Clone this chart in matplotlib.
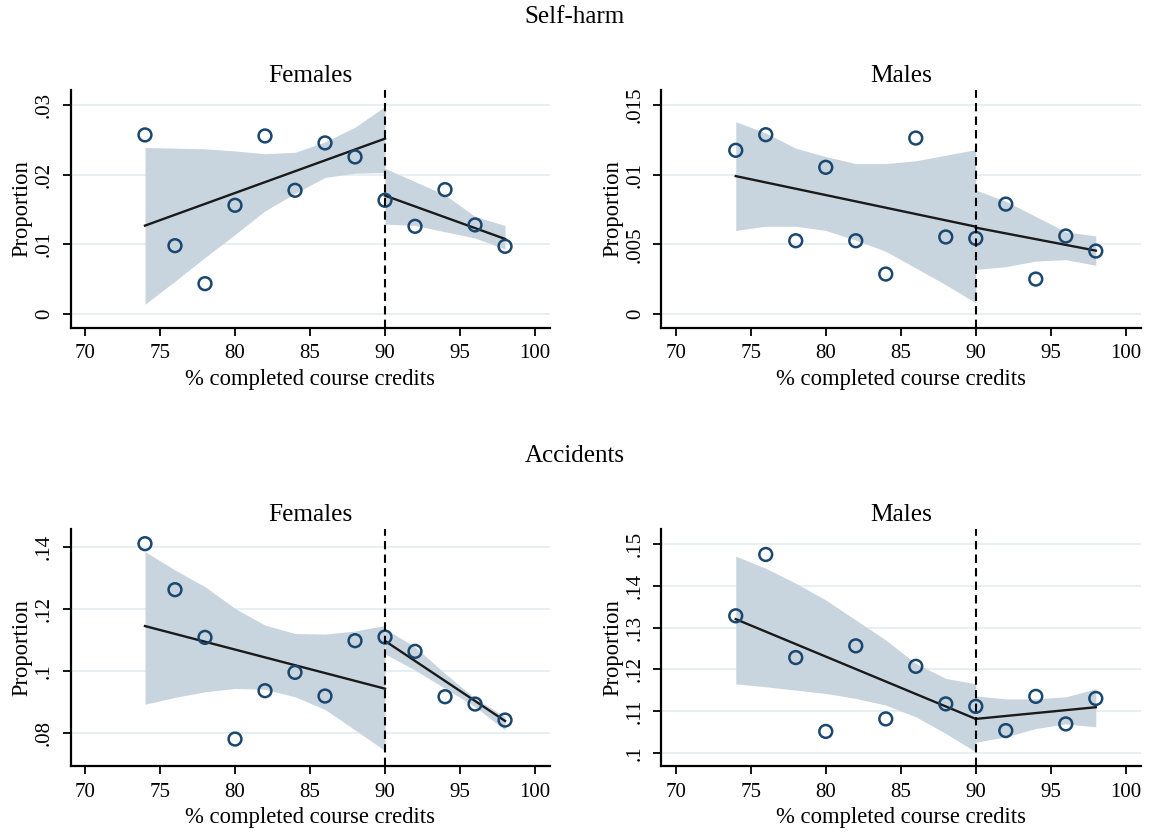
import numpy as np
import matplotlib
matplotlib.use('Agg')
import matplotlib.pyplot as plt

plt.rcParams['font.family'] = ['Liberation Serif', 'DejaVu Serif']

x = [74, 76, 78, 80, 82, 84, 86, 88, 90, 92, 94, 96, 98]
x_left = [74, 76, 78, 80, 82, 84, 86, 88, 90]
x_right = [90, 92, 94, 96, 98]
fit_x_left = [74, 90]
fit_x_right = [90, 98]

# self-harm, females
sh_f = [0.0257, 0.0098, 0.00435, 0.0156, 0.02555, 0.01775, 0.02455, 0.02254,
        0.01632, 0.01258, 0.01785, 0.01278, 0.00971]
sh_f_fit_left = [0.01268, 0.02517]
sh_f_fit_right = [0.01699, 0.01077]
sh_f_hi_left = [0.0239, 0.0238, 0.0237, 0.0234, 0.0230, 0.0232, 0.0247, 0.0268, 0.0298]
sh_f_lo_left = [0.0014, 0.0047, 0.0081, 0.0114, 0.0148, 0.0173, 0.0196, 0.0202, 0.0203]
sh_f_hi_right = [0.0209, 0.0190, 0.0171, 0.0140, 0.0127]
sh_f_lo_right = [0.0129, 0.0127, 0.0118, 0.0109, 0.0093]

# self-harm, males
sh_m = [0.01175, 0.01287, 0.00526, 0.01053, 0.00526, 0.00287, 0.01263, 0.00553,
        0.00543, 0.00789, 0.00251, 0.0056, 0.00452]
sh_m_fit_left = [0.0099, 0.00627]
sh_m_fit_right = [0.0062, 0.00455]
sh_m_hi_left = [0.0138, 0.0130, 0.0119, 0.0113, 0.0108, 0.0108, 0.0110, 0.0114, 0.0118]
sh_m_lo_left = [0.0060, 0.0063, 0.0063, 0.0060, 0.0053, 0.0045, 0.0033, 0.0021, 0.0008]
sh_m_hi_right = [0.0089, 0.0081, 0.0070, 0.0059, 0.0056]
sh_m_lo_right = [0.0032, 0.0034, 0.0038, 0.0039, 0.0035]

# accidents, females
ac_f = [0.14097, 0.12613, 0.11075, 0.07796, 0.09355, 0.09946, 0.09183, 0.10968,
        0.11086, 0.10624, 0.09161, 0.08925, 0.08409]
ac_f_fit_left = [0.1144, 0.0942]
ac_f_fit_right = [0.1096, 0.0838]
ac_f_hi_left = [0.1384, 0.1325, 0.1271, 0.1201, 0.1147, 0.1120, 0.1118, 0.1128, 0.1146]
ac_f_lo_left = [0.0892, 0.0914, 0.0932, 0.0943, 0.0940, 0.0916, 0.0875, 0.0809, 0.0742]
ac_f_hi_right = [0.1135, 0.1077, 0.0991, 0.0911, 0.0852]
ac_f_lo_right = [0.1054, 0.1002, 0.0943, 0.0884, 0.0809]

# accidents, males
ac_m = [0.1328, 0.1475, 0.1228, 0.1051, 0.1256, 0.1081, 0.1207, 0.1117,
        0.1111, 0.1053, 0.1135, 0.1069, 0.1130]
ac_m_fit_left = [0.1320, 0.1081]
ac_m_fit_right = [0.1081, 0.1109]
ac_m_hi_left = [0.1471, 0.1442, 0.1406, 0.1366, 0.1318, 0.1270, 0.1214, 0.1178, 0.1165]
ac_m_lo_left = [0.1165, 0.1158, 0.1150, 0.1142, 0.1130, 0.1114, 0.1086, 0.1046, 0.1002]
ac_m_hi_right = [0.1136, 0.1129, 0.1129, 0.1134, 0.1153]
ac_m_lo_right = [0.1025, 0.1038, 0.1058, 0.1069, 0.1062]

band_color = '#c9d5de'
grid_color = '#e6eef1'
marker_color = '#1a476f'

panels = [
    dict(pos=[0.0615, 0.6071, 0.4168, 0.285], ylim=(-0.00197, 0.03215),
         yticks=[0, 0.01, 0.02, 0.03], ylabels=['0', '.01', '.02', '.03'], title='Females',
         y=sh_f, fl=sh_f_fit_left, fr=sh_f_fit_right,
         hl=sh_f_hi_left, ll=sh_f_lo_left, hr=sh_f_hi_right, lr=sh_f_lo_right),
    dict(pos=[0.5752, 0.6071, 0.4168, 0.285], ylim=(-0.00098, 0.01608),
         yticks=[0, 0.005, 0.01, 0.015], ylabels=['0', '.005', '.01', '.015'], title='Males',
         y=sh_m, fl=sh_m_fit_left, fr=sh_m_fit_right,
         hl=sh_m_hi_left, ll=sh_m_lo_left, hr=sh_m_hi_right, lr=sh_m_lo_right),
    dict(pos=[0.0615, 0.0815, 0.4168, 0.2842], ylim=(0.06926, 0.1457),
         yticks=[0.08, 0.1, 0.12, 0.14], ylabels=['.08', '.1', '.12', '.14'], title='Females',
         y=ac_f, fl=ac_f_fit_left, fr=ac_f_fit_right,
         hl=ac_f_hi_left, ll=ac_f_lo_left, hr=ac_f_hi_right, lr=ac_f_lo_right),
    dict(pos=[0.5752, 0.0815, 0.4168, 0.2842], ylim=(0.09681, 0.1536),
         yticks=[0.1, 0.11, 0.12, 0.13, 0.14, 0.15],
         ylabels=['.1', '.11', '.12', '.13', '.14', '.15'], title='Males',
         y=ac_m, fl=ac_m_fit_left, fr=ac_m_fit_right,
         hl=ac_m_hi_left, ll=ac_m_lo_left, hr=ac_m_hi_right, lr=ac_m_lo_right),
]

fig = plt.figure(figsize=(11.5, 8.34), dpi=100)

for p in panels:
    ax = fig.add_axes(p['pos'])
    ax.fill_between(x_left, p['ll'], p['hl'], color=band_color, lw=0, zorder=1)
    ax.fill_between(x_right, p['lr'], p['hr'], color=band_color, lw=0, zorder=1)
    ax.plot(fit_x_left, p['fl'], color='#1a1a1a', lw=1.7, zorder=3)
    ax.plot(fit_x_right, p['fr'], color='#1a1a1a', lw=1.7, zorder=3)
    ax.scatter(x, p['y'], s=85, facecolors='none', edgecolors=marker_color,
               linewidths=1.8, zorder=4)
    ax.axvline(90, color='black', lw=1.5, ls=(0, (4, 2.5)), zorder=5)

    ax.set_xlim(69.05, 101)
    ax.set_ylim(*p['ylim'])
    ax.set_xticks([70, 75, 80, 85, 90, 95, 100])
    ax.set_yticks(p['yticks'])
    ax.set_yticklabels(p['ylabels'], rotation=90, va='center')
    ax.tick_params(labelsize=15, length=6, width=1.3, color='black', pad=6)
    ax.grid(axis='y', color=grid_color, lw=1.3, zorder=0)
    ax.set_axisbelow(True)
    for s in ['top', 'right']:
        ax.spines[s].set_visible(False)
    for s in ['left', 'bottom']:
        ax.spines[s].set_linewidth(1.6)
    ax.set_xlabel('% completed course credits', fontsize=16.3, labelpad=4)
    ax.set_ylabel('Proportion', fontsize=16.3, labelpad=2)
    ax.set_title(p['title'], fontsize=18.3, pad=6)

fig.text(0.5, 1 - 17 / 834, 'Self-harm', ha='center', va='center', fontsize=18)
fig.text(0.5, 1 - 456 / 834, 'Accidents', ha='center', va='center', fontsize=18)

fig.savefig('out.png', dpi=100)
